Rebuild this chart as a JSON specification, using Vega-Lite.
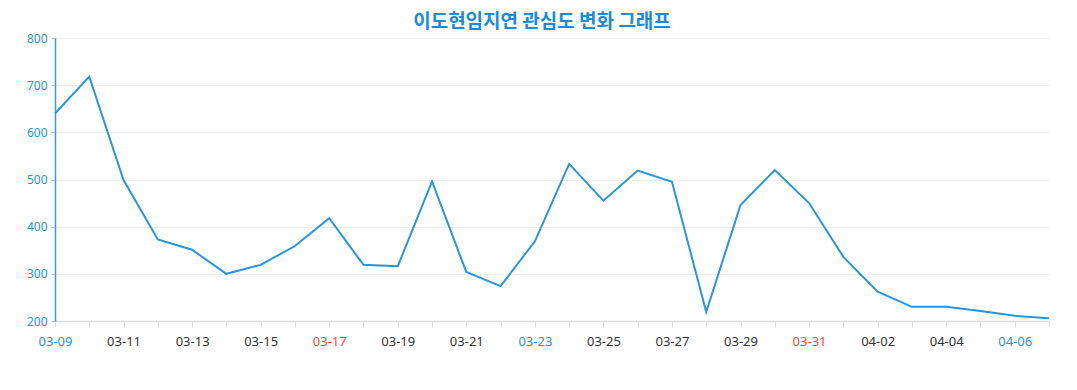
{
  "$schema": "https://vega.github.io/schema/vega-lite/v6.json",
  "width": 994,
  "height": 283,
  "autosize": "none",
  "padding": {"left": 55, "top": 38, "right": 28, "bottom": 69},
  "background": "white",
  "title": {
    "text": "이도현임지연 관심도 변화 그래프",
    "font": "Noto Sans CJK KR",
    "fontSize": 19,
    "fontWeight": "bold",
    "color": "#1a8ae0",
    "anchor": "middle",
    "offset": 0,
    "dx": -10
  },
  "config": {"view": {"stroke": null}},
  "data": {
    "values": [
      {"date": "03-09", "value": 640},
      {"date": "03-10", "value": 718},
      {"date": "03-11", "value": 499},
      {"date": "03-12", "value": 373},
      {"date": "03-13", "value": 351},
      {"date": "03-14", "value": 300},
      {"date": "03-15", "value": 319},
      {"date": "03-16", "value": 359},
      {"date": "03-17", "value": 418},
      {"date": "03-18", "value": 319},
      {"date": "03-19", "value": 316},
      {"date": "03-20", "value": 496},
      {"date": "03-21", "value": 304},
      {"date": "03-22", "value": 274},
      {"date": "03-23", "value": 369},
      {"date": "03-24", "value": 533},
      {"date": "03-25", "value": 455},
      {"date": "03-26", "value": 519},
      {"date": "03-27", "value": 495},
      {"date": "03-28", "value": 219},
      {"date": "03-29", "value": 446},
      {"date": "03-30", "value": 520},
      {"date": "03-31", "value": 450},
      {"date": "04-01", "value": 336},
      {"date": "04-02", "value": 262},
      {"date": "04-03", "value": 230},
      {"date": "04-04", "value": 230},
      {"date": "04-05", "value": 221},
      {"date": "04-06", "value": 211},
      {"date": "04-07", "value": 206}
    ]
  },
  "mark": {"type": "line", "color": "#2895e0", "strokeWidth": 2, "strokeJoin": "miter"},
  "encoding": {
    "x": {
      "field": "date",
      "type": "ordinal",
      "sort": null,
      "scale": {"type": "point", "padding": 0},
      "axis": {
        "title": null,
        "labelAngle": 0,
        "labelFont": "Noto Sans",
        "labelFontSize": 13,
        "labelPadding": 8,
        "labelExpr": "indexof(['03-09','03-11','03-13','03-15','03-17','03-19','03-21','03-23','03-25','03-27','03-29','03-31','04-02','04-04','04-06'], datum.value) >= 0 ? datum.value : ''",
        "labelColor": {
          "condition": [
            {"test": "datum.value == '03-17' || datum.value == '03-31'", "value": "#e0533d"},
            {"test": "datum.value == '03-09' || datum.value == '03-23' || datum.value == '04-06'", "value": "#2a94d6"}
          ],
          "value": "#333333"
        },
        "labelOverlap": false,
        "domainColor": "#dddddd",
        "domainWidth": 1.5,
        "tickColor": "#dddddd",
        "tickSize": 6,
        "grid": false
      }
    },
    "y": {
      "field": "value",
      "type": "quantitative",
      "scale": {"domain": [200, 800], "nice": false, "zero": false},
      "axis": {
        "title": null,
        "values": [200, 300, 400, 500, 600, 700, 800],
        "labelFont": "Noto Sans",
        "labelFontSize": 12,
        "labelColor": "#2a94d6",
        "labelPadding": 4,
        "domainColor": "#3b9ad9",
        "domainWidth": 1.5,
        "tickColor": "#c8c8c8",
        "tickSize": 4,
        "gridColor": "#f0f0f0",
        "gridWidth": 1
      }
    }
  }
}
